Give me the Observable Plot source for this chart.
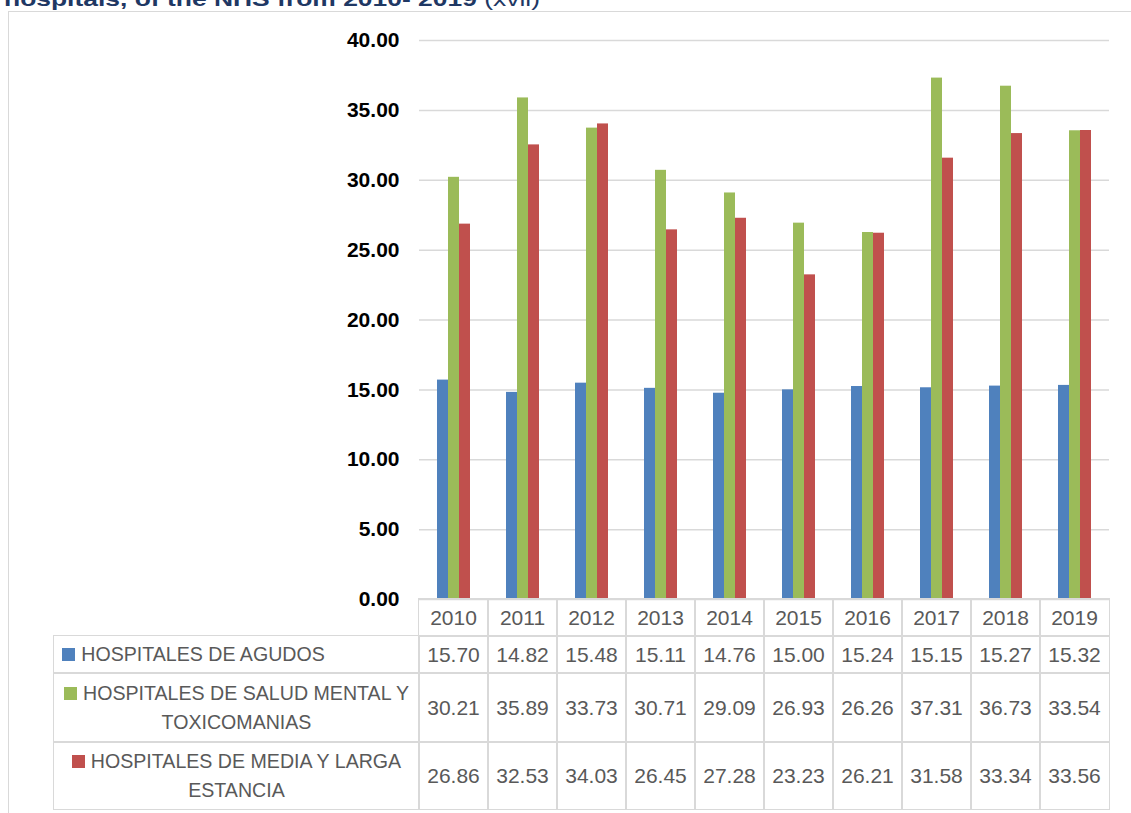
<!DOCTYPE html>
<html>
<head>
<meta charset="utf-8">
<script src="https://cdn.jsdelivr.net/npm/d3@7"></script>
<script src="https://cdn.jsdelivr.net/npm/@observablehq/plot@0.6"></script>
<style>
  html, body { margin: 0; padding: 0; background: #fff; }
  body { width: 1131px; height: 813px; overflow: hidden; position: relative;
         font-family: "Liberation Sans", Arial, sans-serif; }
  #frame { position: absolute; left: 8px; top: 10.5px; width: 1300px; height: 1000px;
           border: 1.5px solid #d9d9d9; box-sizing: border-box; }
  #title { position: absolute; left: 4px; top: -12px; white-space: nowrap; color: #1F3864;
           font-size: 21px; line-height: 21px; font-weight: bold; transform-origin: 0 0; }
  #title .ref { font-weight: normal; }
  #chart { position: absolute; left: 0; top: 0; }
  #chart svg { overflow: visible; }
  .cell { position: absolute; box-sizing: border-box; border: 1.5px solid #d9d9d9;
          display: flex; align-items: center; justify-content: center;
          color: #595959; font-size: 21px; }
  .key { max-width: 356px; text-align: center; font-size: 19.6px; line-height: 29px; }
  .swatch { display: inline-block; width: 13px; height: 13px; margin-right: 6px; vertical-align: baseline; }
</style>
</head>
<body>
<div id="frame"></div>
<div id="title">hospitals, of the NHS from 2010- 2019 <span class="ref">(xvii)</span></div>
<div id="chart"></div>
<script>
// Average stay (days) by hospital type, 2010–2019
const years = ["2010", "2011", "2012", "2013", "2014", "2015", "2016", "2017", "2018", "2019"];
const seriesNames = [
  "HOSPITALES DE AGUDOS",
  "HOSPITALES DE SALUD MENTAL Y TOXICOMANIAS",
  "HOSPITALES DE MEDIA Y LARGA ESTANCIA"
];
const agudos      = [15.70, 14.82, 15.48, 15.11, 14.76, 15.00, 15.24, 15.15, 15.27, 15.32];
const saludMental = [30.21, 35.89, 33.73, 30.71, 29.09, 26.93, 26.26, 37.31, 36.73, 33.54];
const mediaLarga  = [26.86, 32.53, 34.03, 26.45, 27.28, 23.23, 26.21, 31.58, 33.34, 33.56];
const seriesColors = ["#4F81BD", "#9BBB59", "#C0504D"];
const yTicks = [0, 5, 10, 15, 20, 25, 30, 35, 40];

const seriesValues = [agudos, saludMental, mediaLarga];
const rows = [];
years.forEach((year, j) => {
  seriesNames.forEach((name, i) => rows.push({year, series: name, value: seriesValues[i][j]}));
});

const fmt = d => d.toFixed(2);

const chart = Plot.plot({
  width: 1131,
  height: 600,
  marginLeft: 415,
  marginRight: 18,
  marginTop: 40,
  marginBottom: 1,
  style: {background: "transparent", fontFamily: "'Liberation Sans', Arial, sans-serif"},
  fx: {domain: years, padding: 0, axis: null},
  x: {domain: seriesNames, paddingInner: 0, paddingOuter: 1.5, axis: null},
  y: {domain: [0, 40], label: null},
  color: {domain: seriesNames, range: seriesColors},
  marks: [
    Plot.gridY(yTicks, {stroke: "#d9d9d9", strokeOpacity: 1, strokeWidth: 1.5}),
    Plot.barY(rows, {fx: "year", x: "series", y: "value", fill: "series"}),
    Plot.axisY(yTicks, {
      label: null, tickSize: 0, tickPadding: 20, tickFormat: fmt,
      fontSize: 21, fontWeight: "bold", fill: "#000"
    })
  ]
});
document.getElementById("chart").append(chart);

// Data table under the chart, columns aligned to the year bands
const fx = chart.scale("fx");
const colW = fx.bandwidth;
const legendLeft = 54;
const rowEdges = [599, 636, 673, 742, 809];

function cell(x0, y0, x1, y1) {
  const d = document.createElement("div");
  d.className = "cell";
  d.style.left = (x0 - 0.75) + "px";
  d.style.top = (y0 - 0.75) + "px";
  d.style.width = (x1 - x0 + 1.5) + "px";
  d.style.height = (y1 - y0 + 1.5) + "px";
  document.body.append(d);
  return d;
}

years.forEach(year => {
  const x0 = fx.apply(year);
  cell(x0, rowEdges[0], x0 + colW, rowEdges[1]).textContent = year;
});

seriesNames.forEach((name, i) => {
  const y0 = rowEdges[i + 1], y1 = rowEdges[i + 2];
  const lc = cell(legendLeft, y0, fx.apply(years[0]), y1);
  const key = document.createElement("div");
  key.className = "key";
  const sw = document.createElement("span");
  sw.className = "swatch";
  sw.style.background = seriesColors[i];
  key.append(sw, document.createTextNode(name));
  lc.append(key);
  if (key.offsetHeight < 40) {
    lc.style.justifyContent = "flex-start";
    lc.style.paddingLeft = "8px";
    key.style.textAlign = "left";
  }
  years.forEach((year, j) => {
    const x0 = fx.apply(year);
    cell(x0, y0, x0 + colW, y1).textContent = fmt(seriesValues[i][j]);
  });
});

// Fit the heading to its line width
const title = document.getElementById("title");
const tw = title.getBoundingClientRect().width;
title.style.transform = `scaleX(${536 / tw})`;
</script>
</body>
</html>
